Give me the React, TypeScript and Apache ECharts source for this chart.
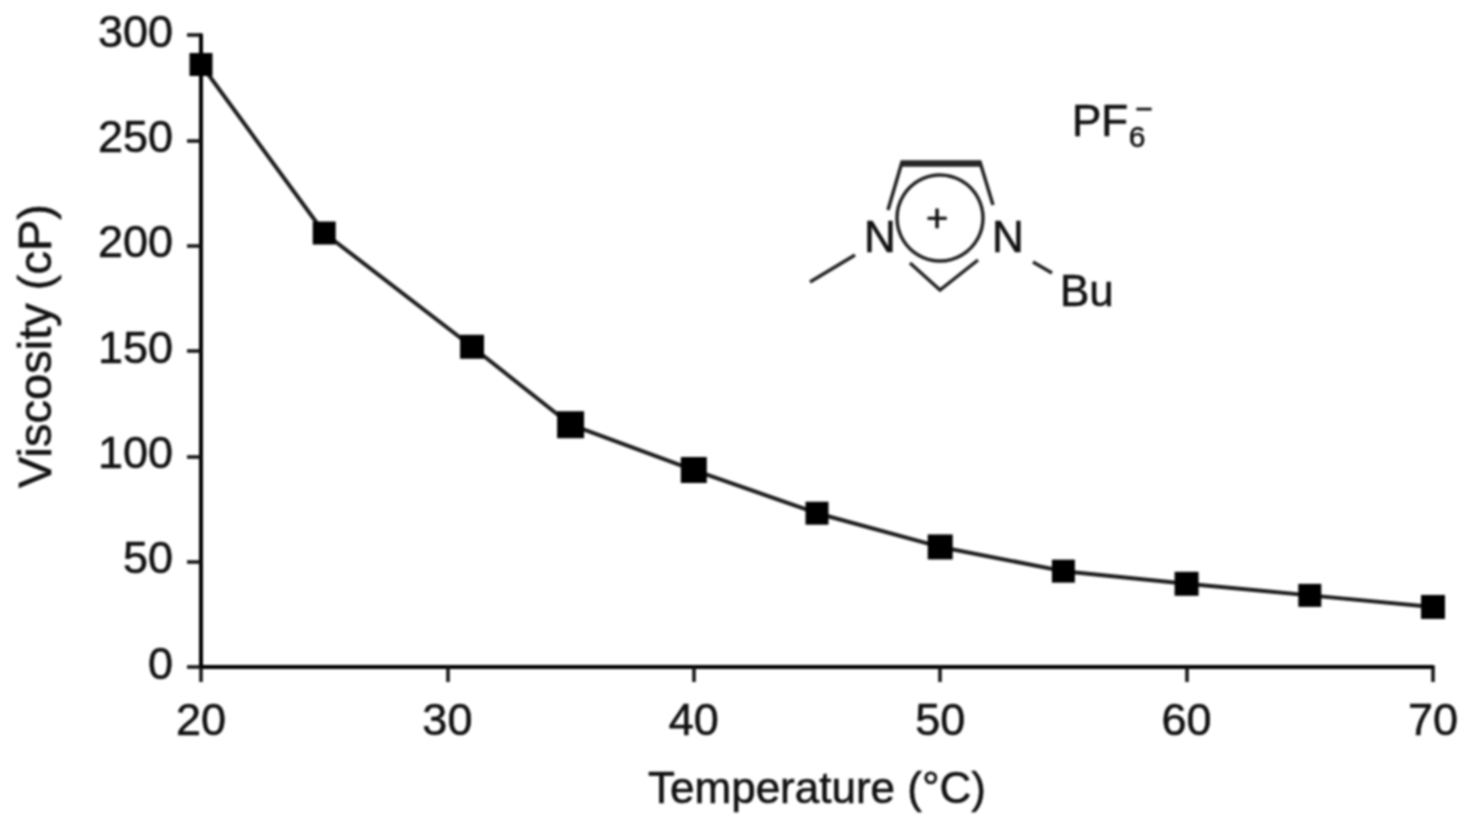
import React, { useEffect, useRef } from "react";
import * as echarts from "echarts";

const temperatures = [20, 25, 31, 35, 40, 45, 50, 55, 60, 65, 70];
const viscosity = [286, 206, 152, 115, 93.5, 73, 57, 45.5, 39.5, 34, 28.5];
const markerSizes = [23, 23, 24, 27, 26, 23, 25, 23, 24, 23, 24];
const FONT = '"Liberation Sans", Arial, sans-serif';
const INK = "#111";
const THICKEN = { textBorderColor: INK, textBorderWidth: 0.6 };

const label = (text: string, x: number, y: number, fontSize = 44, align = "left") => ({
  type: "text",
  x,
  y,
  style: { text, x: 0, y: 0, fontSize, fontFamily: FONT, fill: INK, align, verticalAlign: "middle", stroke: INK, lineWidth: 0.6 },
});
const bond = (points: number[][], lineWidth = 3.5) => ({
  type: "polyline",
  shape: { points },
  style: { stroke: "#222", lineWidth, fill: "none" },
});

export default function App() {
  const ref = useRef<HTMLDivElement>(null);
  useEffect(() => {
    const chart = echarts.init(ref.current!, undefined, { renderer: "svg" });
    chart.setOption({
      animation: false,
      backgroundColor: "#fff",
      grid: { left: 201, right: 33, top: 35, bottom: 151, outerBoundsMode: "none" },
      xAxis: {
        type: "value",
        min: 20,
        max: 70,
        interval: 10,
        name: "Temperature (°C)",
        nameLocation: "middle",
        nameGap: 98,
        nameTextStyle: { fontSize: 44, fontFamily: FONT, color: INK, ...THICKEN },
        splitLine: { show: false },
        axisLine: { lineStyle: { color: "#000", width: 4 } },
        axisTick: { length: 15, lineStyle: { color: "#111", width: 3.5 } },
        axisLabel: { fontSize: 45, fontFamily: FONT, color: INK, margin: 30, ...THICKEN },
      },
      yAxis: {
        type: "value",
        min: 0,
        max: 300,
        interval: 50,
        name: "Viscosity (cP)",
        nameLocation: "middle",
        nameGap: 143,
        nameTextStyle: { fontSize: 47, fontFamily: FONT, color: INK, padding: [0, 0, 0, 10], ...THICKEN },
        splitLine: { show: false },
        axisLine: { onZero: false, lineStyle: { color: "#000", width: 4 } },
        axisTick: { length: 14, lineStyle: { color: "#111", width: 3.5 } },
        axisLabel: {
          fontSize: 45,
          fontFamily: FONT,
          color: INK,
          margin: 28,
          verticalAlign: "bottom",
          lineHeight: 8,
          ...THICKEN,
        },
      },
      series: [
        {
          type: "line",
          data: temperatures.map((t, i) => [t, viscosity[i]]),
          symbol: "rect",
          symbolSize: (_v: unknown, p: { dataIndex: number }) => markerSizes[p.dataIndex],
          clip: false,
          lineStyle: { color: "#1c1c1c", width: 4 },
          itemStyle: { color: "#000" },
        },
      ],
      graphic: [
        bond([[888, 210], [902, 162], [980, 162], [993, 205]]),
        bond([[902, 165], [980, 165]]),
        bond([[910, 263], [940, 290], [978, 260]]),
        bond([[810, 282], [855, 255]]),
        bond([[1033, 262], [1052, 273]]),
        { type: "circle", shape: { cx: 940, cy: 218, r: 43 }, style: { stroke: "#222", lineWidth: 3.5, fill: "none" } },
        label("+", 937, 218, 38, "center"),
        label("N", 880, 236, 44, "center"),
        label("N", 1008, 236, 44, "center"),
        label("Bu", 1060, 290),
        label("PF", 1072, 120),
        label("6", 1137, 136, 30, "center"),
        label("−", 1144, 108, 30, "center"),
      ],
    });
    return () => chart.dispose();
  }, []);
  return (
    <div
      ref={ref}
      style={{ position: "fixed", left: 0, top: 0, width: 1466, height: 818, filter: "blur(0.8px)" }}
    />
  );
}
